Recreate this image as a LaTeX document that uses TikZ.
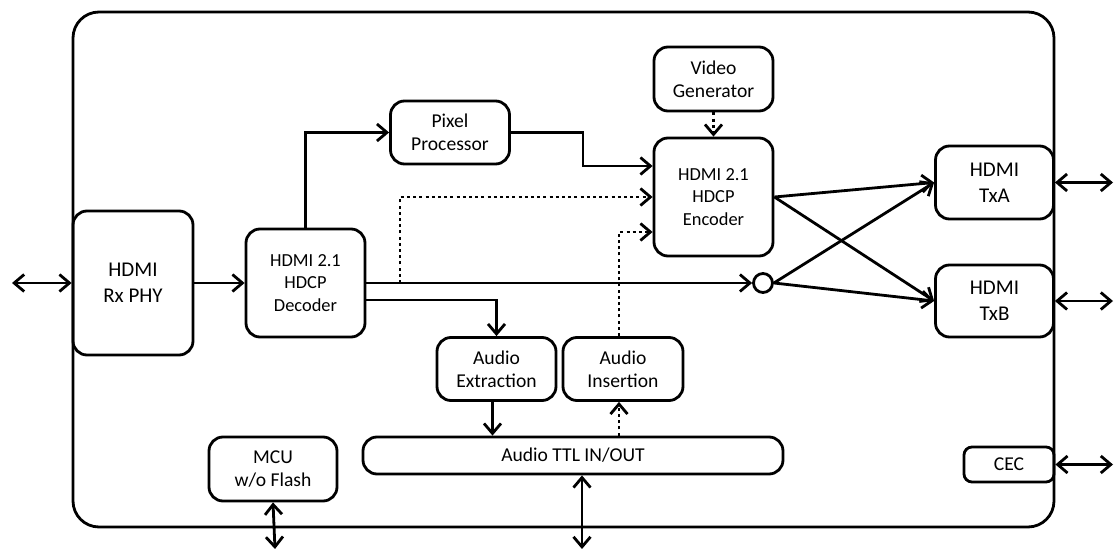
\documentclass[tikz,border=0pt]{standalone}
\usepackage{fontspec}
\setmainfont{Carlito}
\usetikzlibrary{arrows.meta,positioning}

\begin{document}
\begin{tikzpicture}[x=0.5pt, y=-0.5pt, line width=1.4pt,
	  >={Straight Barb[length=5pt,width=8.5pt]},
	  every node/.style = {shape=rectangle, rounded corners=7pt,
	    draw, align=center, inner sep=1pt,
	    font=\fontsize{9.8}{11.5}\selectfont},
	  big/.style = {font=\fontsize{10.5}{13}\selectfont},
	  codec/.style = {font=\fontsize{9.2}{11.3}\selectfont},
	  dots/.style = {dash pattern=on 1.5pt off 1.6pt}]
	  \useasboundingbox (0,0) rectangle (1115,550);
	  \draw[rounded corners=13pt] (73,12) rectangle (1054,527);
	  % blocks
	  \node[big, minimum width=60pt, minimum height=72pt] (rx) at (133,283) {HDMI\\Rx PHY};
	  \node[codec, minimum width=59.5pt, minimum height=54pt] (dec) at (305.5,283) {HDMI 2.1\\HDCP\\Decoder};
	  \node[minimum width=59.5pt, minimum height=31.5pt] (pix) at (450,132.5) {Pixel\\Processor};
	  \node[minimum width=59.5pt, minimum height=32pt] (vgen) at (713.5,79) {Video\\Generator};
	  \node[codec, minimum width=59.5pt, minimum height=59pt] (enc) at (713.5,197) {HDMI 2.1\\HDCP\\Encoder};
	  \node[big, minimum width=59pt, minimum height=36.5pt] (txa) at (994.5,182.5) {HDMI\\TxA};
	  \node[big, minimum width=59pt, minimum height=36pt] (txb) at (994.5,301) {HDMI\\TxB};
	  \node[minimum width=59.5pt, minimum height=31.5pt] (aext) at (496.5,369) {Audio\\Extraction};
	  \node[minimum width=60pt, minimum height=31.5pt] (ains) at (623,369) {Audio\\Insertion};
	  \node[minimum width=210pt, minimum height=18.5pt] (ttl) at (573,455.5) {Audio TTL IN/OUT};
	  \node[minimum width=64pt, minimum height=32pt] (mcu) at (273,469) {MCU\\w/o Flash};
	  \node[minimum width=45pt, minimum height=17.5pt, rounded corners=4pt] (cec) at (1009,464.5) {CEC};
	  \node[shape=circle, minimum size=9.5pt, inner sep=0pt] (sw) at (763,283) {};
	  % free ends
	  \coordinate (rxin) at (12,283);
	  \coordinate (txaout) at (1113,182.5);
	  \coordinate (txbout) at (1113,301);
	  \coordinate (cecout) at (1113,464.5);
	  \coordinate (mcuout) at (275,549);
	  \coordinate (ttlout) at (582,549);
	  \coordinate (tap) at (400,283);
	  % connectors
	  \draw[<->] (rxin) -- (rx.west);
	  \draw[->] (rx.east) -- (dec.west);
	  \draw[->] (dec.north) |- (pix.west);
	  \draw[->] (pix.east) -- ++(72,0) |- ([yshift=15.5pt]enc.west);
	  \draw[->] (dec.east) -- (sw.west);
	  \draw[->, dots] (tap) |- (enc.west);
	  \draw[->, dots] (vgen.south) -- (enc.north);
	  \draw[->, dots] ([xshift=-2pt]ains.north) |- ([yshift=-17.5pt]enc.west);
	  \draw[->] ([yshift=-8.5pt]dec.east) -| (aext.north);
	  \draw[->] ([xshift=-2pt]aext.south) -- ([xshift=-2pt]aext.south |- ttl.north);
	  \draw[->, dots] ([xshift=-2pt]ains.south |- ttl.north) -- ([xshift=-2pt]ains.south);
	  \draw[->] (enc.east) -- (txa.west);
	  \draw[->] (enc.east) -- (txb.west);
	  \draw[->] (sw.east) -- (txa.west);
	  \draw[->] (sw.east) -- (txb.west);
	  \draw[<->] (txa.east) -- (txaout);
	  \draw[<->] (txb.east) -- (txbout);
	  \draw[<->] (cec.east) -- (cecout);
	  \draw[<->] (mcu.south) -- (mcuout);
	  \draw[<->] (ttl.south -| ttlout) -- (ttlout);
\end{tikzpicture}
\end{document}
